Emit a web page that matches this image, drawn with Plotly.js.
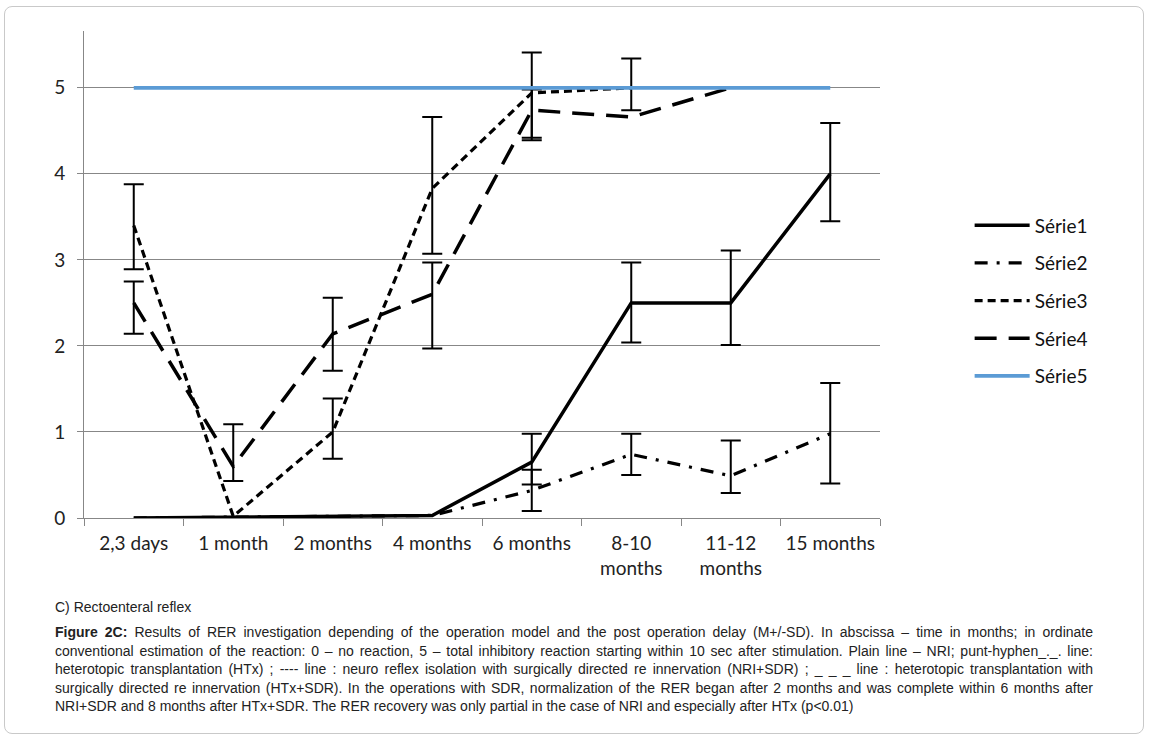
<!DOCTYPE html>
<html>
<head>
<meta charset="utf-8">
<script src="https://cdn.plot.ly/plotly-3.0.1.min.js"></script>
<style>
  html, body { margin:0; padding:0; background:#fff; }
  #frame { position:absolute; left:4px; top:6px; width:1140px; height:728px; border:1px solid #c9c9c9; border-radius:8px; box-sizing:border-box; }
  #chart { position:absolute; left:0; top:0; width:1149px; height:740px; }
  #cap { position:absolute; left:55px; top:598px; width:1038px; font-family:"Liberation Sans", Arial, sans-serif; font-size:14px; color:#222; }
  #cap .ln { line-height:18.6px; white-space:nowrap; text-align:justify; text-align-last:justify; }
  #cap .last { text-align-last:left; }
  #cap .sub { line-height:18px; margin-bottom:7px; text-align-last:left; }
</style>
</head>
<body>
<div id="frame"></div>
<div id="chart"></div>
<div id="cap">
  <div class="ln sub">C) Rectoenteral reflex</div>
  <div class="ln"><b>Figure 2C:</b> Results of RER investigation depending of the operation model and the post operation delay (M+/-SD). In abscissa – time in months; in ordinate</div>
  <div class="ln">conventional estimation of the reaction: 0 – no reaction, 5 – total inhibitory reaction starting within 10 sec after stimulation. Plain line – NRI; punt-hyphen_._. line:</div>
  <div class="ln">heterotopic transplantation (HTx) ; ---- line : neuro reflex isolation with surgically directed re innervation (NRI+SDR) ; _ _ _ line : heterotopic transplantation with</div>
  <div class="ln">surgically directed re innervation (HTx+SDR). In the operations with SDR, normalization of the RER began after 2 months and was complete within 6 months after</div>
  <div class="ln last">NRI+SDR and 8 months after HTx+SDR. The RER recovery was only partial in the case of NRI and especially after HTx (p&lt;0.01)</div>
</div>
<script>
// Categories (x tick labels)
var categories = ["2,3 days", "1 month", "2 months", "4 months", "6 months", "8-10<br>months", "11-12<br>months", "15 months"];
var yTicks = [0, 1, 2, 3, 4, 5];

// Series values (NaN = no point)
var serie1 = [0, 0.01, 0.02, 0.03, 0.65, 2.5, 2.5, 4.0];
var serie2 = [0, 0.01, 0.02, 0.03, 0.32, 0.74, 0.49, 0.98];
var serie3 = [3.4, 0.02, 1.0, 3.83, 4.94, 5.0, NaN, NaN];
var serie4 = [2.5, 0.6, 2.14, 2.6, 4.74, 4.66, 5.0, NaN];
var serie5 = [5, 5, 5, 5, 5, 5, 5, 5];

// Error bar ends (upper / lower), NaN = no bar
var serie1Hi = [NaN, NaN, NaN, NaN, 0.98, 2.97, 3.11, 4.59];
var serie1Lo = [NaN, NaN, NaN, NaN, 0.39, 2.04, 2.01, 3.45];
var serie2Hi = [NaN, NaN, NaN, NaN, 0.56, 0.98, 0.90, 1.57];
var serie2Lo = [NaN, NaN, NaN, NaN, 0.08, 0.50, 0.29, 0.40];
var serie3Hi = [3.88, NaN, 1.39, 4.66, 5.41, 5.34, NaN, NaN];
var serie3Lo = [2.89, NaN, 0.69, 3.07, 4.39, 4.74, NaN, NaN];
var serie4Hi = [2.75, 1.09, 2.56, 2.97, 4.98, NaN, NaN, NaN];
var serie4Lo = [2.14, 0.43, 1.71, 1.97, 4.42, NaN, NaN, NaN];

var names = ["Série1", "Série2", "Série3", "Série4", "Série5"];

function errs(vals, hi, lo) {
  return {
    type: "data", symmetric: false, visible: true,
    array: vals.map(function(v, i){ return hi[i] - v; }),
    arrayminus: vals.map(function(v, i){ return v - lo[i]; }),
    color: "#000", thickness: 2, width: 10
  };
}

function mk(vals, name, line, hi, lo, i) {
  var t = {
    type: "scatter", mode: "lines", x: categories, y: vals, name: name,
    line: line, connectgaps: false, legendgroup: "g" + i, hoverinfo: "skip"
  };
  if (hi) t.error_y = errs(vals, hi, lo);
  return t;
}

var traces = [
  mk(serie1, names[0], {color:"#000", width:3.5, dash:"solid"}, serie1Hi, serie1Lo, 1),
  mk(serie2, names[1], {color:"#000", width:3.2, dash:"13px,9px,3px,9px"}, serie2Hi, serie2Lo, 2),
  mk(serie3, names[2], {color:"#000", width:3.2, dash:"8px,5px"}, serie3Hi, serie3Lo, 3),
  mk(serie4, names[3], {color:"#000", width:3.5, dash:"22px,12px"}, serie4Hi, serie4Lo, 4),
  mk(serie5, names[4], {color:"#5B9BD5", width:3.8, dash:"solid"}, null, null, 5)
];

var layout = {
  width: 1149, height: 740,
  margin: {l:84, r:269, t:31, b:222, pad:0},
  paper_bgcolor: "rgba(0,0,0,0)", plot_bgcolor: "rgba(0,0,0,0)",
  font: {family: "Lato, 'Open Sans', sans-serif", size: 19, color: "#222"},
  showlegend: true,
  legend: {
    x: 1.1126, xanchor: "left", y: 0.64, yanchor: "top",
    font: {family: "Lato, sans-serif", size: 19, color: "#111"},
    traceorder: "grouped", tracegroupgap: 10, itemwidth: 55,
    bgcolor: "rgba(0,0,0,0)"
  },
  xaxis: {
    type: "category", range: [-0.5, 7.5], tickson: "boundaries", showgrid: false,
    showline: true, linecolor: "#878787", linewidth: 1,
    ticks: "outside", ticklen: 7, tickcolor: "#878787", tickwidth: 1,
    tickfont: {family: "Lato, sans-serif", size: 19, color: "#222"},
    ticklabelstandoff: 8, zeroline: false, fixedrange: true
  },
  yaxis: {
    range: [0, 5.66], tickvals: yTicks, ticktext: yTicks.map(String),
    showgrid: true, gridcolor: "#878787", gridwidth: 1,
    showline: true, linecolor: "#878787", linewidth: 1,
    ticks: "outside", ticklen: 6, tickcolor: "#878787",
    tickfont: {family: "Lato, sans-serif", size: 19, color: "#222"},
    ticklabelstandoff: 8, zeroline: false, fixedrange: true
  }
};

Plotly.newPlot("chart", traces, layout, {displayModeBar: false, staticPlot: true});
</script>
</body>
</html>
